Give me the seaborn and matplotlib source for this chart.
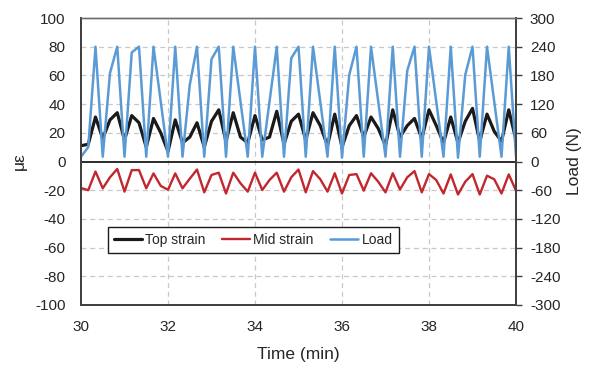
import numpy as np
import pandas as pd
import matplotlib
matplotlib.use("Agg")
import matplotlib.pyplot as plt
import seaborn as sns

# Time axis: one reading every 10 s between 30 and 40 min
time_min = [30 + i / 6 for i in range(61)]

top_strain = [11, 12, 31, 16, 29, 34, 15, 32, 27, 10,
              30, 20, 7, 29, 13, 17, 27, 10, 28, 36,
              14, 34, 17, 13, 32, 15, 17, 35, 12, 28,
              33, 15, 34, 25, 11, 33, 10, 25, 32, 17,
              31, 23, 11, 36, 17, 25, 30, 16, 36, 25,
              13, 31, 13, 28, 37, 14, 33, 21, 14, 36, 15]

mid_strain = [-18.5, -20, -7, -18.7, -11, -5.2, -21, -6, -6, -18.7,
              -8.3, -17, -19.7, -8.3, -18.7, -12, -5.6, -21.5, -9.4, -7.8,
              -22.3, -7.8, -15.2, -21, -7.8, -19.9, -12.9, -7.8, -21, -11,
              -5.6, -21.5, -6.7, -12.3, -21, -8.2, -22.3, -9.4, -8.8, -20.3,
              -8.2, -14.1, -21.5, -8.2, -19.5, -11, -6.7, -21.5, -8.8, -12.9,
              -22.3, -9, -23, -14.1, -8.8, -23, -9.9, -12.4, -22.3, -9, -20.3]

load = [10, 30, 240, 10, 185, 240, 10, 228, 240, 10,
        240, 125, 10, 240, 10, 160, 240, 10, 214, 240,
        10, 240, 125, 10, 240, 10, 125, 240, 10, 216,
        240, 10, 240, 125, 10, 240, 8, 181, 240, 10,
        240, 125, 10, 240, 10, 190, 240, 10, 240, 125,
        10, 240, 8, 181, 240, 10, 240, 125, 10, 240, 10]

x_ticks = [30, 32, 34, 36, 38, 40]
left_ticks = list(range(-100, 101, 20))
right_ticks = list(range(-300, 301, 60))

df = pd.DataFrame({"Time": time_min, "Top strain": top_strain,
                   "Mid strain": mid_strain, "Load": load})

sns.set_style("white")
plt.rcParams["font.family"] = ["Liberation Sans", "DejaVu Sans"]

TXT = "#262626"
SP = "#404040"
GRID = "#c8c8c8"

fig = plt.figure(figsize=(5.92, 3.65), dpi=100)
ax = fig.add_axes([81 / 592, 1 - 305 / 365, 435 / 592, 287 / 365])
ax2 = ax.twinx()

ax.set_xlim(30, 40)
ax.set_ylim(-100, 100)
ax2.set_ylim(-300, 300)

# grid
for yv in left_ticks:
    if yv not in (-100, 0, 100):
        ax.axhline(yv, color=GRID, lw=0.9, ls=(0, (4, 3)), zorder=0)
for xv in x_ticks[1:-1]:
    ax.axvline(xv, color=GRID, lw=0.9, ls=(0, (4, 3)), zorder=0)
ax.axhline(0, color="#1a1a1a", lw=1.3, zorder=1)

sns.lineplot(data=df, x="Time", y="Top strain", ax=ax, color="#1a1a1a",
             lw=2.3, label="Top strain", legend=False, zorder=3)
sns.lineplot(data=df, x="Time", y="Mid strain", ax=ax, color="#c1272d",
             lw=1.7, label="Mid strain", legend=False, zorder=3)
sns.lineplot(data=df, x="Time", y="Load", ax=ax2, color="#5b9bd5",
             lw=1.8, label="Load", legend=False, zorder=2)

ax.set_xticks(x_ticks)
ax.set_yticks(left_ticks)
ax2.set_yticks(right_ticks)
ax.set_xticklabels([str(v) for v in x_ticks])
ax.set_yticklabels([str(v) for v in left_ticks])
ax2.set_yticklabels([str(v) for v in right_ticks])

ax.tick_params(axis="both", labelsize=11, colors=TXT, length=0)
ax.tick_params(axis="y", pad=11)
ax.tick_params(axis="x", pad=11)
ax2.tick_params(axis="y", labelsize=11, colors=TXT, length=4,
                direction="out", width=1, pad=6)
ax2.tick_params(axis="y", color=SP)

ax.set_xlabel("Time (min)", fontsize=12.5, color=TXT, labelpad=9)
ax.set_ylabel("με", fontsize=12.5, color=TXT, labelpad=6)
ax2.set_ylabel("Load (N)", fontsize=12.5, color=TXT, labelpad=5)

for a in (ax, ax2):
    for s in a.spines.values():
        s.set_color(SP)
        s.set_linewidth(1.3)
    a.spines["top"].set_color("#6e6e6e")
    a.spines["top"].set_linewidth(1.0)

h1, l1 = ax.get_legend_handles_labels()
h2, l2 = ax2.get_legend_handles_labels()
leg = ax2.legend(h1 + h2, l1 + l2, ncol=3, loc="center left",
                 bbox_to_anchor=(0.045, 0.226), fontsize=10,
                 frameon=True, fancybox=False, edgecolor="#1a1a1a",
                 framealpha=1, handlelength=2.0, handletextpad=0.25,
                 columnspacing=1.2, borderpad=0.45)
leg.get_frame().set_linewidth(1.0)
for t in leg.get_texts():
    t.set_color(TXT)

fig.savefig("out.png", dpi=100)
